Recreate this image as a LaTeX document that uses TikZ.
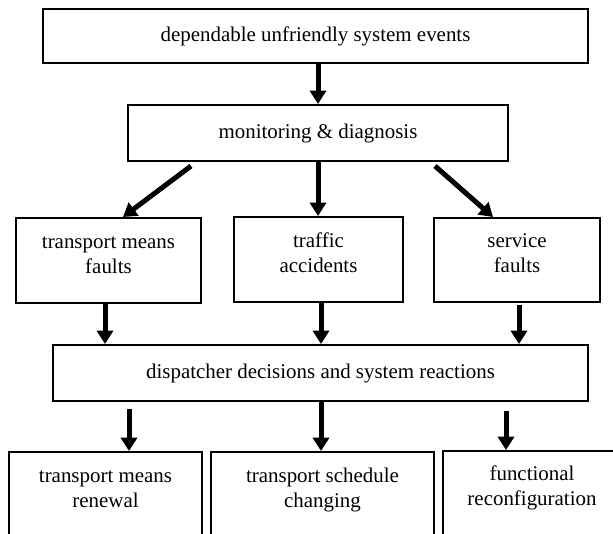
\documentclass[tikz,border=0pt]{standalone}
\usepackage{fontspec}
\setmainfont{Liberation Serif}
\usetikzlibrary{arrows.meta,fit}
\begin{document}
\begin{tikzpicture}[x=0.75pt,y=-0.75pt,
  box/.style={draw=black, line width=1.5pt, inner sep=0pt},
  txt/.style={font=\fontsize{15.7pt}{18.75pt}\selectfont, align=center, inner sep=0pt},
  arr/.style={draw=black, line width=3.75pt, -{Triangle[width=12pt,length=10pt]}}]
\useasboundingbox (0,0) rectangle (613,533);
\fill[white] (0,0) rectangle (613,533);
\clip (0,0) rectangle (613,533);

% top boxes
\node[box, fit={(43,9) (588,63)}] (b1) {};
\node[txt] (t1) at (b1.center) {\strut dependable unfriendly system events};
\node[box, fit={(128,105) (508,161)}] (b2) {};
\node[txt] (t2) at (b2.center) {\strut monitoring \& diagnosis};

% middle row
\node[box, fit={(16,218) (201,303)}] (bA) {};
\node[box, fit={(234,217) (403,302)}] (bB) {};
\node[box, fit={(434,218) (600,302)}] (bC) {};
\node[txt, anchor=north] (tA) at (108.5,230.5) {\strut transport means\\faults\strut};
\node[txt, anchor=north] (tB) at (318.5,229.5) {\strut traffic\\accidents\strut};
\node[txt, anchor=north] (tC) at (517,229.5) {\strut service\\faults\strut};

% dispatcher box
\node[box, fit={(53,345) (588,401)}] (b4) {};
\node[txt] (t4) at (b4.center) {\strut dispatcher decisions and system reactions};

% bottom row (cut off by picture edge)
\node[box, fit={(9,452) (202,560)}] (bD) {};
\node[box, fit={(211,452) (434,560)}] (bE) {};
\node[box, fit={(443,451) (625,560)}] (bF) {};
\node[txt, anchor=north] (tD) at (105.5,464.5) {\strut transport means\\renewal\strut};
\node[txt, anchor=north] (tE) at (322.5,464.5) {\strut transport schedule\\changing\strut};
\node[txt, anchor=north] (tF) at (532,462.5) {\strut functional\\reconfiguration\strut};

% x positions of connectors
\coordinate (x1) at (318,0);
\coordinate (xL1) at (191,0);
\coordinate (xL2) at (123,0);
\coordinate (xM) at (318,0);
\coordinate (xR1) at (435,0);
\coordinate (xR2) at (493,0);
\coordinate (xA) at (105,0);
\coordinate (xB) at (321,0);
\coordinate (xC) at (519,0);
\coordinate (xD) at (129,0);
\coordinate (xE) at (321,0);
\coordinate (xF) at (506,0);

% connectors
\draw[arr] (b1.south -| x1) -- (b2.north -| x1);
\draw[arr] (b2.south -| xL1) ++(0,4) -- (bA.north -| xL2);
\draw[arr] (b2.south -| xM) -- (bB.north -| xM);
\draw[arr] (b2.south -| xR1) ++(0,4) -- (bC.north -| xR2);
\draw[arr] (bA.south -| xA) -- (b4.north -| xA);
\draw[arr] (bB.south -| xB) -- (b4.north -| xB);
\draw[arr] (bC.south -| xC) ++(0,2) -- (b4.north -| xC);
\draw[arr] (b4.south -| xD) ++(0,7) -- (bD.north -| xD);
\draw[arr] (b4.south -| xE) -- (bE.north -| xE);
\draw[arr] (b4.south -| xF) ++(0,9) -- (bF.north -| xF);
\end{tikzpicture}
\end{document}
